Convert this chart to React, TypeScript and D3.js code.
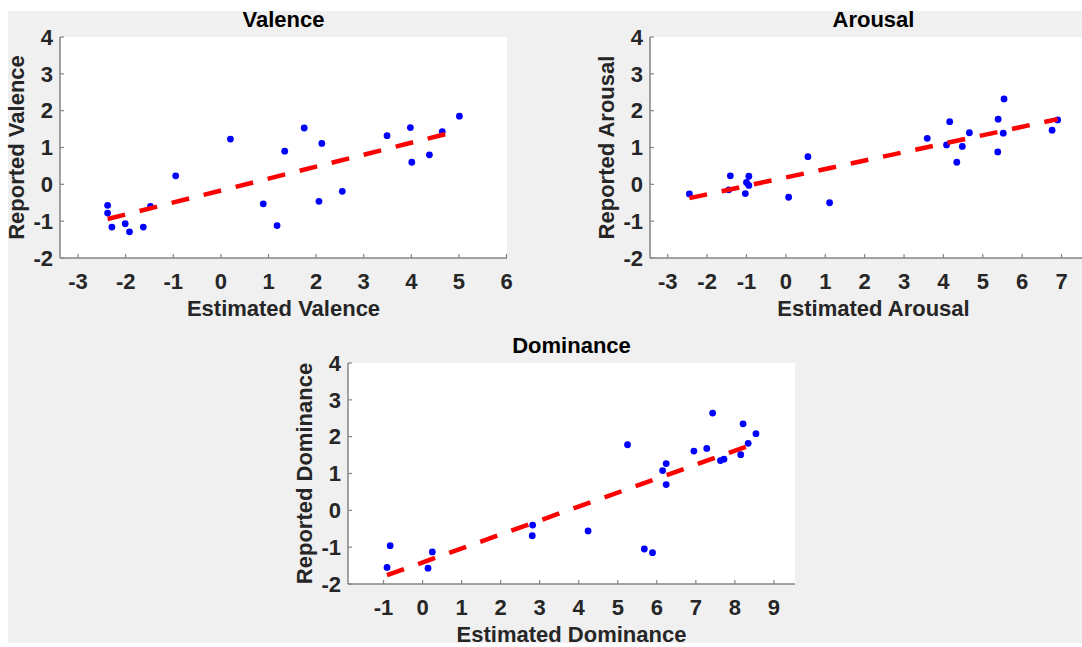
import React from 'react';
import * as d3 from 'd3';

// values
const valenceEst = [-2.38, -2.38, -2.29, -2.01, -1.92, -1.63, -1.48, -0.95, 0.2, 0.89, 1.18, 1.34, 1.75, 2.06, 2.12, 2.55, 3.49, 3.98, 4.01, 4.38, 4.65, 5.01];
const valenceRep = [-0.57, -0.78, -1.16, -1.07, -1.29, -1.16, -0.6, 0.23, 1.23, -0.53, -1.12, 0.9, 1.53, -0.46, 1.11, -0.19, 1.32, 1.54, 0.6, 0.8, 1.43, 1.85];

const arousalEst = [-2.45, -1.41, -1.45, -1.03, -1.0, -0.94, -0.94, 0.07, 0.56, 1.11, 3.59, 4.08, 4.16, 4.34, 4.48, 4.66, 5.38, 5.39, 5.52, 5.54, 6.76, 6.9];
const arousalRep = [-0.26, 0.23, -0.15, -0.25, 0.05, 0.22, -0.03, -0.35, 0.75, -0.5, 1.25, 1.07, 1.7, 0.6, 1.03, 1.4, 0.88, 1.77, 1.39, 2.32, 1.47, 1.75];

const dominanceEst = [-0.91, -0.83, 0.14, 0.25, 2.82, 2.81, 4.24, 5.25, 5.68, 5.89, 6.15, 6.24, 6.24, 6.95, 7.28, 7.43, 7.63, 7.72, 8.15, 8.21, 8.34, 8.54];
const dominanceRep = [-1.55, -0.96, -1.57, -1.13, -0.4, -0.69, -0.56, 1.78, -1.05, -1.15, 1.08, 1.27, 0.7, 1.61, 1.68, 2.64, 1.35, 1.39, 1.51, 2.35, 1.82, 2.08];

const yTicks = [-2, -1, 0, 1, 2, 3, 4];
const valenceTicks = [-3, -2, -1, 0, 1, 2, 3, 4, 5, 6];
const arousalTicks = [-3, -2, -1, 0, 1, 2, 3, 4, 5, 6, 7];
const dominanceTicks = [-1, 0, 1, 2, 3, 4, 5, 6, 7, 8, 9];

const panels = [
  { title: 'Valence', xLabel: 'Estimated Valence', yLabel: 'Reported Valence', xs: valenceEst, ys: valenceRep, xTicks: valenceTicks, left: 60, top: 37 },
  { title: 'Arousal', xLabel: 'Estimated Arousal', yLabel: 'Reported Arousal', xs: arousalEst, ys: arousalRep, xTicks: arousalTicks, left: 650, top: 37 },
  { title: 'Dominance', xLabel: 'Estimated Dominance', yLabel: 'Reported Dominance', xs: dominanceEst, ys: dominanceRep, xTicks: dominanceTicks, left: 348, top: 363 },
];

const W = 447;
const H = 221;
const FS = 22;
const FONT = '"Liberation Sans", Arial, sans-serif';
const AXIS = '#858585';
const TEXT = '#262626';

// least squares fit
function fit(xs: number[], ys: number[]) {
  const mx = d3.mean(xs) as number;
  const my = d3.mean(ys) as number;
  const sxy = d3.sum(xs, (x, i) => (x - mx) * (ys[i] - my));
  const sxx = d3.sum(xs, (x) => (x - mx) * (x - mx));
  const b = sxy / sxx;
  return (x: number) => my + b * (x - mx);
}

const Panel = ({ p }: { p: typeof panels[number] }) => {
  const [minX, maxX] = d3.extent(p.xs) as [number, number];
  const x = d3.scaleLinear().domain([minX - 1, maxX + 1]).range([p.left, p.left + W]);
  const y = d3.scaleLinear().domain([-2, 4]).range([p.top + H, p.top]);
  const f = fit(p.xs, p.ys);
  const line = d3.line<number>().x((d) => x(d)).y((d) => y(f(d)));
  const bottom = p.top + H;
  const cx = p.left + W / 2;
  return (
    <g>
      <rect x={p.left} y={p.top} width={W} height={H} fill="#fff" />
      {/* axes */}
      <line x1={p.left} x2={p.left + W} y1={bottom} y2={bottom} stroke={AXIS} strokeWidth={1.5} />
      <line x1={p.left} x2={p.left} y1={p.top} y2={bottom} stroke={AXIS} strokeWidth={1.5} />
      {p.xTicks.map((t) => (
        <g key={'x' + t}>
          <line x1={x(t)} x2={x(t)} y1={bottom} y2={bottom - 4} stroke={AXIS} strokeWidth={1.2} />
          <text x={x(t)} y={bottom + 31} textAnchor="middle" fontSize={FS} fontWeight="bold" fill={TEXT}>{t}</text>
        </g>
      ))}
      {yTicks.map((t) => (
        <g key={'y' + t}>
          <line x1={p.left} x2={p.left + 4} y1={y(t)} y2={y(t)} stroke={AXIS} strokeWidth={1.2} />
          <text x={p.left - 7} y={y(t) + 7.8} textAnchor="end" fontSize={FS} fontWeight="bold" fill={TEXT}>{t}</text>
        </g>
      ))}
      {/* points */}
      {p.xs.map((v, i) => (
        <circle key={i} cx={x(v)} cy={y(p.ys[i])} r={3.4} fill="#0000ff" />
      ))}
      {/* fit line */}
      <path d={line([minX, maxX]) as string} fill="none" stroke="#ff0000" strokeWidth={4.5} strokeDasharray="18 15" />
      <text x={cx} y={p.top - 10} textAnchor="middle" fontSize={FS} fontWeight="bold" fill="#000">{p.title}</text>
      <text x={cx} y={bottom + 58} textAnchor="middle" fontSize={FS} fontWeight="bold" fill={TEXT}>{p.xLabel}</text>
      <text transform={`translate(${p.left - 36},${p.top + H / 2}) rotate(-90)`} textAnchor="middle" fontSize={FS} fontWeight="bold" fill={TEXT}>{p.yLabel}</text>
    </g>
  );
};

export default function App() {
  return (
    <svg width={1082} height={647} style={{ position: 'absolute', left: 0, top: 0 }} fontFamily={FONT}>
      <rect x={0} y={0} width={1082} height={647} fill="#fff" />
      <rect x={8} y={11} width={1074} height={632} fill="#f0f0f0" />
      {panels.map((p) => (
        <Panel key={p.title} p={p} />
      ))}
    </svg>
  );
}
